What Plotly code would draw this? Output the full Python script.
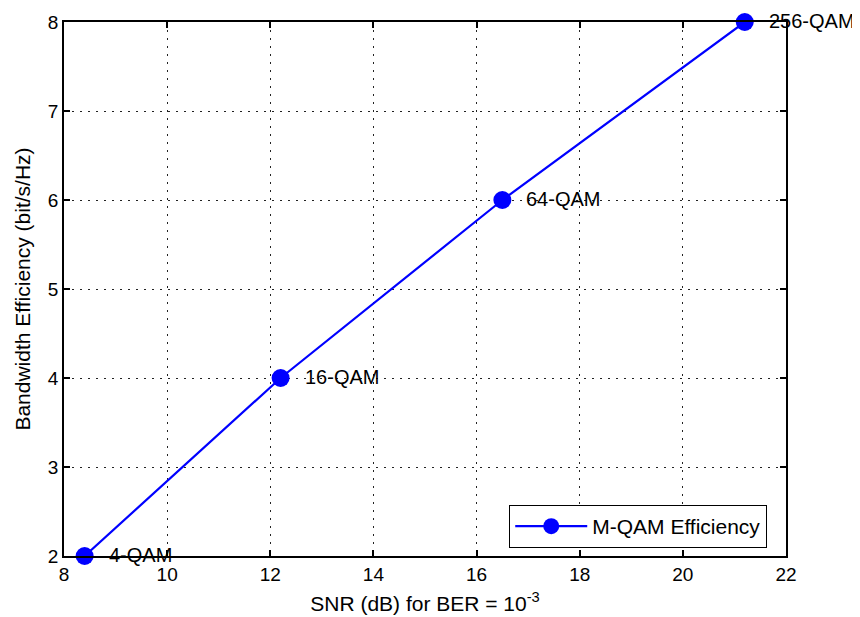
import plotly.graph_objects as go

snr_db = [8.4, 12.2, 16.5, 21.2]
efficiency = [2, 4, 6, 8]
labels = ["4-QAM", "16-QAM", "64-QAM", "256-QAM"]
series_name = "M-QAM Efficiency"
x_ticks = [8, 10, 12, 14, 16, 18, 20, 22]
y_ticks = [2, 3, 4, 5, 6, 7, 8]

FONT = "Liberation Sans, Arial, sans-serif"

fig = go.Figure()
fig.add_trace(go.Scatter(
    x=snr_db, y=efficiency, mode="lines+markers", name=series_name,
    line=dict(color="#0000FF", width=2.2),
    marker=dict(color="#0000FF", size=18, symbol="circle"),
    cliponaxis=False,
))

for x, y, t in zip(snr_db, efficiency, labels):
    fig.add_annotation(x=x, y=y, text=t, showarrow=False, xanchor="left",
                       yanchor="middle", xshift=22, yshift=1,
                       font=dict(family=FONT, size=20, color="#000000"))

axis_common = dict(
    showline=True, linecolor="#000000", linewidth=1.5, mirror="ticks",
    ticks="inside", ticklen=6, tickcolor="#000000", tickwidth=1.5,
    showgrid=True, gridcolor="#222222", griddash="2px,6px", gridwidth=1,
    zeroline=False, automargin=False,
    tickfont=dict(family=FONT, size=19, color="#000000"),
)

fig.update_xaxes(range=[8, 22], tickvals=x_ticks,
                 title=dict(text="SNR (dB) for BER = 10<sup>-3</sup>",
                            font=dict(family=FONT, size=21, color="#000000"), standoff=13),
                 **axis_common)
fig.update_yaxes(range=[2, 8], tickvals=y_ticks,
                 title=dict(text="Bandwidth Efficiency (bit/s/Hz)",
                            font=dict(family=FONT, size=21, color="#000000"), standoff=12),
                 **axis_common)

fig.update_layout(
    width=852, height=609,
    margin=dict(l=56, r=74, t=14, b=61, autoexpand=False),
    paper_bgcolor="#FFFFFF", plot_bgcolor="#FFFFFF",
    showlegend=True,
    legend=dict(x=0.974, y=0.015, xanchor="right", yanchor="bottom",
                bordercolor="#000000", borderwidth=1, bgcolor="#FFFFFF",
                font=dict(family=FONT, size=21, color="#000000"),
                itemwidth=72),
)

fig.write_html("out.html")
